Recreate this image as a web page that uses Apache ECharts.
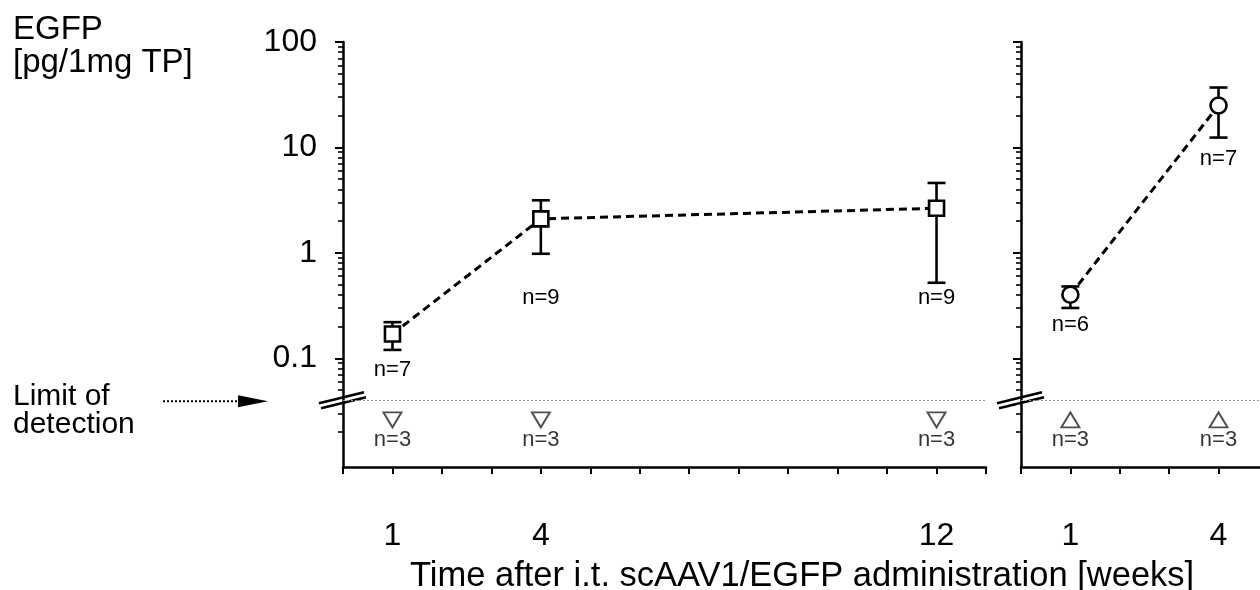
<!DOCTYPE html>
<html><head><meta charset="utf-8">
<script src="https://cdn.jsdelivr.net/npm/echarts@6/dist/echarts.min.js"></script>
<style>html,body{margin:0;padding:0;background:#fff}#c{width:1260px;height:590px}</style>
</head><body><div id="c"></div>
<script>
// ---------------- data ----------------
// Left panel (squares)
const weeksA = [1, 4, 12];
const meanA  = [0.17, 2.1, 2.65];
const lowA   = [0.12, 0.98, 0.52];
const highA  = [0.22, 3.15, 4.6];
const nA     = [7, 9, 9];
const ndWeeksA = [1, 4, 12];
const ndNA     = [3, 3, 3];
// Right panel (circles)
const weeksB = [1, 4];
const meanB  = [0.40, 25];
const lowB   = [0.30, 12.4];
const highB  = [0.48, 37];
const nB     = [6, 7];
const ndWeeksB = [1, 4];
const ndNB     = [3, 3];
// below-detection plotting level and detection limit
const ndLevel = 0.026;
const detectionLimit = 0.04;
// axes
const yMin = 0.0093, yMax = 100;
const yMajorTicks = [0.1, 1, 10, 100];
const yMinorTicks = [0.02, 0.03, 0.05, 0.06, 0.07, 0.08, 0.09,
  0.2, 0.3, 0.4, 0.5, 0.6, 0.7, 0.8, 0.9, 2, 3, 4, 5, 6, 7, 8, 9,
  20, 30, 40, 50, 60, 70, 80, 90];
const xTicksA  = [0,1,2,3,4,5,6,7,8,9,10,11,12,13];
const xLabelsA = [1, 4, 12];
const xTicksB  = [0,1,2,3,4];
const xLabelsB = [1, 4];
const yTitle = ['EGFP', '[pg/1mg TP]'];
const xTitle = 'Time after i.t. scAAV1/EGFP administration [weeks]';
const lodText = ['Limit of', 'detection'];

// --------------- styling (not data) ---------------
const FONT = '"Liberation Sans", Arial, Helvetica, sans-serif';
const labelGapA = [20, 44, 15];  // px below lower cap
const labelGapB = [17, 21];

function fmtY(v){ return String(+(+v).toPrecision(3)); }

function xAxisCfg(grid, max, ticks, labels){
  return {
    gridIndex: grid, type: 'value', min: 0, max: max,
    axisLine: {onZero: false, lineStyle: {color: '#000', width: 2.5}},
    axisTick: {customValues: ticks, length: 7, lineStyle: {color: '#000', width: 2}},
    axisLabel: {customValues: labels, margin: 53, fontSize: 32, color: '#000', fontFamily: FONT},
    splitLine: {show: false}
  };
}
function yAxisCfg(grid, major){
  return {
    gridIndex: grid, type: 'log', logBase: 10, min: yMin, max: yMax, position: 'left',
    axisLine: {show: major, onZero: false, lineStyle: {color: '#000', width: 2.5}},
    axisTick: {show: true, customValues: major ? yMajorTicks : yMinorTicks,
               length: major ? 8 : 5, lineStyle: {color: '#000', width: major ? 2 : 1.6}},
    axisLabel: major && grid === 0
      ? {customValues: yMajorTicks, margin: 26, fontSize: 32, color: '#000', fontFamily: FONT, formatter: fmtY}
      : {show: false},
    splitLine: {show: false}, minorTick: {show: false}
  };
}

function errSeries(xi, yi, weeks, low, high, ns, gaps){
  return {
    type: 'custom', xAxisIndex: xi, yAxisIndex: yi, z: 2,
    encode: {x: 0, y: [1, 2]},
    data: weeks.map((w, i) => [w, low[i], high[i], ns[i], gaps[i]]),
    renderItem(params, api){
      const x = api.value(0);
      const pLo = api.coord([x, api.value(1)]);
      const pHi = api.coord([x, api.value(2)]);
      const cap = 9;
      const st = {stroke: '#000', lineWidth: 2.6};
      return {type: 'group', children: [
        {type: 'line', shape: {x1: pLo[0], y1: pLo[1], x2: pHi[0], y2: pHi[1]}, style: st},
        {type: 'line', shape: {x1: pLo[0]-cap, y1: pLo[1], x2: pLo[0]+cap, y2: pLo[1]}, style: st},
        {type: 'line', shape: {x1: pHi[0]-cap, y1: pHi[1], x2: pHi[0]+cap, y2: pHi[1]}, style: st},
        {type: 'text', x: pLo[0], y: pLo[1] + api.value(4),
         style: {text: 'n=' + api.value(3), fill: '#000', font: '22px ' + FONT,
                 textAlign: 'center', textVerticalAlign: 'middle'}}
      ]};
    }
  };
}
function meanSeries(xi, yi, weeks, mean, symbol, size){
  return {
    type: 'line', xAxisIndex: xi, yAxisIndex: yi, z: 3,
    data: weeks.map((w, i) => [w, mean[i]]),
    symbol: symbol, symbolSize: size, showAllSymbol: true,
    lineStyle: {color: '#000', width: 3, type: [8, 5]},
    itemStyle: {color: '#fff', borderColor: '#000', borderWidth: 2.6},
    emphasis: {disabled: true},
    markLine: {silent: true, symbol: 'none', label: {show: false},
      lineStyle: {color: '#999', width: 1, type: [2, 2]},
      data: [{yAxis: detectionLimit}]}
  };
}
function ndSeries(xi, yi, weeks, ns, rotate){
  return {
    type: 'scatter', xAxisIndex: xi, yAxisIndex: yi, z: 3,
    data: weeks.map((w, i) => [w, ndLevel, ns[i]]),
    symbol: 'triangle', symbolSize: [18, 15], symbolRotate: rotate,
    itemStyle: {color: '#fff', borderColor: '#222', borderWidth: 1.9},
    label: {show: true, position: 'bottom', distance: 1, color: '#000',
      fontSize: 22, fontFamily: FONT, formatter: p => 'n=' + p.value[2]},
    emphasis: {disabled: true}
  };
}

const chart = echarts.init(document.getElementById('c'), null, {renderer: 'canvas'});
const option = {
  animation: false,
  backgroundColor: '#fff',
  grid: [
    {left: 343, top: 42, width: 643, height: 425},
    {left: 1021, top: 42, width: 239, height: 425}
  ],
  xAxis: [xAxisCfg(0, 13, xTicksA, xLabelsA), xAxisCfg(1, 4.84, xTicksB, xLabelsB)],
  yAxis: [yAxisCfg(0, true), yAxisCfg(0, false), yAxisCfg(1, true), yAxisCfg(1, false)],
  series: [
    errSeries(0, 0, weeksA, lowA, highA, nA, labelGapA),
    meanSeries(0, 0, weeksA, meanA, 'rect', 15),
    ndSeries(0, 0, ndWeeksA, ndNA, 180),
    errSeries(1, 2, weeksB, lowB, highB, nB, labelGapB),
    meanSeries(1, 2, weeksB, meanB, 'circle', 16),
    ndSeries(1, 2, ndWeeksB, ndNB, 0)
  ]
};
chart.setOption(option);

// decorations: titles, limit-of-detection note, axis breaks
const pA = chart.convertToPixel({gridIndex: 0}, [0, detectionLimit]);
const pB = chart.convertToPixel({gridIndex: 1}, [0, detectionLimit]);
function breakMark(p){
  const st = {stroke: '#000', lineWidth: 2.5};
  return [
    {type: 'line', shape: {x1: p[0]-24, y1: p[1]+3, x2: p[0]+21, y2: p[1]-8}, style: st},
    {type: 'line', shape: {x1: p[0]-22, y1: p[1]+8, x2: p[0]+23, y2: p[1]-3}, style: st}
  ];
}
chart.setOption({graphic: [
  {type: 'text', left: 13, top: 13, style: {text: yTitle[0], font: '33px ' + FONT, fill: '#000'}},
  {type: 'text', left: 13, top: 46, style: {text: yTitle[1], font: '33px ' + FONT, fill: '#000'}},
  {type: 'text', left: 13, top: 382, style: {text: lodText[0], font: '30px ' + FONT, fill: '#000'}},
  {type: 'text', left: 13, top: 410, style: {text: lodText[1], font: '30px ' + FONT, fill: '#000'}},
  {type: 'line', shape: {x1: 163, y1: pA[1]+1, x2: 240, y2: pA[1]+1},
   style: {stroke: '#000', lineWidth: 2, lineDash: [2, 2]}},
  {type: 'polygon', shape: {points: [[238, pA[1]-5], [268, pA[1]+1], [238, pA[1]+7]]}, style: {fill: '#000'}},
  ...breakMark(pA),
  ...breakMark(pB),
  {type: 'text', left: 410, top: 559,
   style: {text: xTitle, font: '34.5px ' + FONT, fill: '#000'}}
]});
</script></body></html>
